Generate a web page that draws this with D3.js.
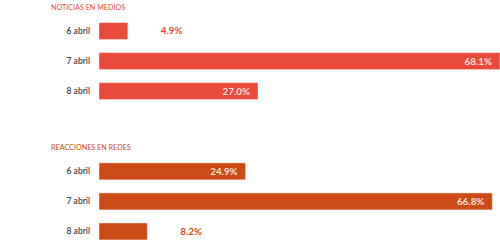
<!DOCTYPE html>
<html>
<head>
<meta charset="utf-8">
<script src="https://cdn.jsdelivr.net/npm/d3@7"></script>
<style>
  body { margin: 0; background: #fff; }
  svg { display: block; font-family: Lato, "Open Sans", sans-serif; }
</style>
</head>
<body>
<div id="chart"></div>
<script>
const days = ["6 abril", "7 abril", "8 abril"]
const medios = [4.9, 68.1, 27.0]
const redes = [24.9, 66.8, 8.2]
const panels = [
  { title: "NOTICIAS EN MEDIOS", values: medios, color: "#e84a3b", top: 9.5 },
  { title: "REACCIONES EN REDES", values: redes, color: "#cc4a16", top: 149.8 }
]

const width = 500, height = 247
const svg = d3.select("#chart").append("svg")
  .attr("width", width)
  .attr("height", height)

const x = d3.scaleLinear()
  .domain([0, d3.max([...medios, ...redes])])
  .range([99, 500])

panels.forEach(p => {
  const y = d3.scaleBand()
    .domain(days)
    .range([p.top, p.top + 103.2])
    .padding(0.435)

  const g = svg.append("g")

  g.append("text")
    .attr("x", 51)
    .attr("y", p.top)
    .attr("font-size", 7.2)
    .attr("fill", p.color)
    .text(p.title)

  const rows = g.selectAll("g.row")
    .data(days.map((d, i) => ({ day: d, v: p.values[i] })))
    .enter()
    .append("g")

  rows.append("text")
    .text(d => d.day)
    .attr("x", 90)
    .attr("y", d => y(d.day) + y.bandwidth() / 2)
    .attr("dy", "0.35em")
    .attr("text-anchor", "end")
    .attr("font-size", 8.5)
    .attr("font-weight", 600)
    .attr("fill", "#444")

  rows.append("rect")
    .attr("x", x(0))
    .attr("y", d => y(d.day))
    .attr("width", d => x(d.v) - x(0))
    .attr("height", y.bandwidth())
    .attr("fill", p.color)
    .attr("stroke", "rgba(255,255,255,0.45)")
    .attr("stroke-width", 1)

  rows.append("text")
    .text(d => d.v.toFixed(1) + "%")
    .attr("x", d => d.v < 10 ? x(d.v) + 33 : x(d.v) - 8)
    .attr("y", d => y(d.day) + y.bandwidth() / 2)
    .attr("dy", "0.35em")
    .attr("text-anchor", d => d.v < 10 ? "start" : "end")
    .attr("font-size", 9.8)
    .attr("font-weight", 700)
    .attr("fill", d => d.v < 10 ? p.color : "#fbe3dc")
})
</script>
</body>
</html>
